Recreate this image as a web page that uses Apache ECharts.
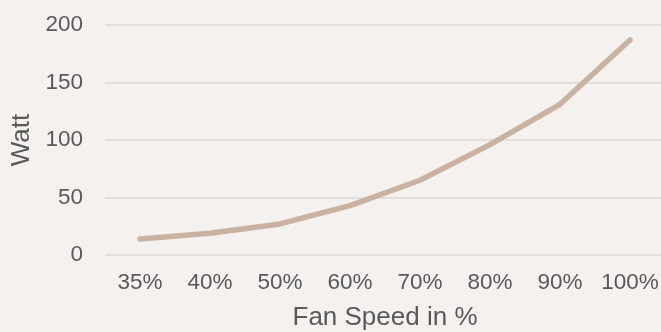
<!DOCTYPE html>
<html>
<head>
<meta charset="utf-8">
<script src="https://cdn.jsdelivr.net/npm/echarts@6/dist/echarts.min.js"></script>
<style>
  html, body { margin: 0; padding: 0; background: #f4f1ee; }
  #chart { width: 661px; height: 332px; }
</style>
</head>
<body>
<div id="chart"></div>
<script>
// Fan power draw at each speed step
const fanSpeeds = ['35%', '40%', '50%', '60%', '70%', '80%', '90%', '100%'];
const wattValues = [14, 19, 27, 43, 65, 96, 131, 187];
const wattTicks = [0, 50, 100, 150, 200];

const chart = echarts.init(document.getElementById('chart'), null, { renderer: 'canvas' });
const textColor = '#595959';
const font = 'Liberation Sans, Arial, sans-serif';

chart.setOption({
  backgroundColor: '#f4f1ee',
  animation: false,
  grid: {
    left: 105, top: 25, width: 560, height: 230,
    containLabel: false,
    outerBoundsMode: 'none'
  },
  xAxis: {
    type: 'category',
    data: fanSpeeds,
    boundaryGap: true,
    name: 'Fan Speed in %',
    nameLocation: 'middle',
    nameGap: 50,
    nameTextStyle: { color: textColor, fontSize: 26, fontFamily: font },
    axisLine: { show: false },
    axisTick: { show: false },
    axisLabel: { interval: 0, hideOverlap: false, color: textColor, fontSize: 22.5, fontFamily: font, margin: 16 },
    splitLine: { show: false }
  },
  yAxis: {
    type: 'value',
    min: wattTicks[0],
    max: wattTicks[wattTicks.length - 1],
    interval: 50,
    name: 'Watt',
    nameLocation: 'middle',
    nameGap: 70,
    nameRotate: 90,
    nameTextStyle: { color: textColor, fontSize: 26, fontFamily: font },
    axisLine: { show: false },
    axisTick: { show: false },
    axisLabel: { color: textColor, fontSize: 22.5, fontFamily: font, margin: 22 },
    splitLine: { lineStyle: { color: '#d9d9d9', width: 1.5 } }
  },
  series: [{
    type: 'line',
    data: wattValues,
    symbol: 'none',
    smooth: false,
    lineStyle: { color: '#c9b2a1', width: 5.5, cap: 'round', join: 'round' }
  }]
});
</script>
</body>
</html>
